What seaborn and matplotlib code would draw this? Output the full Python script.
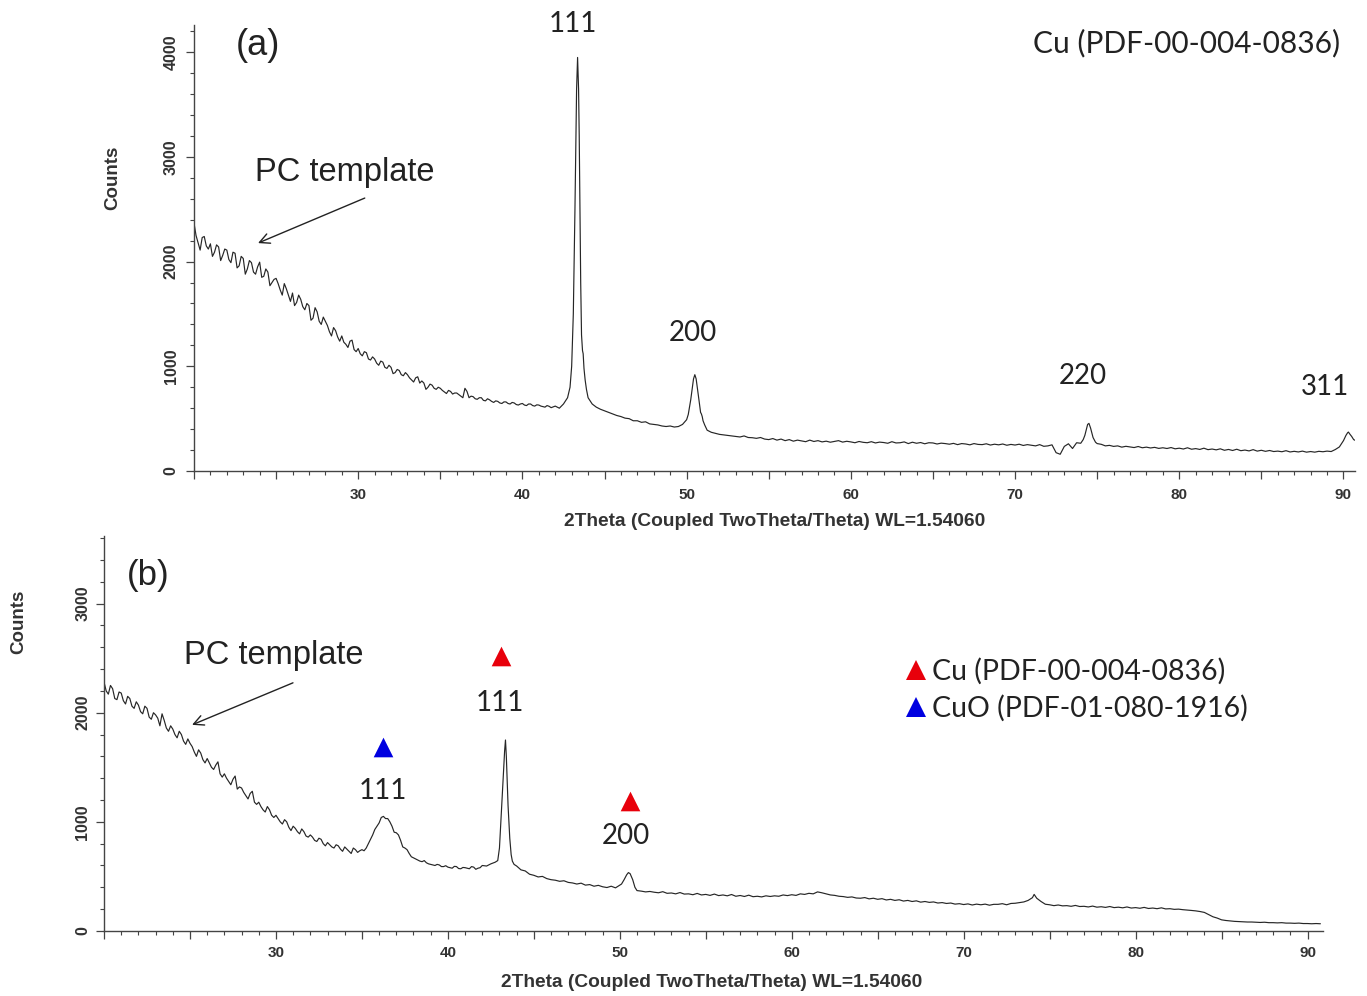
import numpy as np
import pandas as pd
import matplotlib
matplotlib.use("Agg")
import matplotlib.pyplot as plt
from matplotlib.ticker import MultipleLocator, FuncFormatter
from matplotlib.lines import Line2D
import seaborn as sns

# scan grid: 2theta from 20 deg in 0.25 deg steps, one row per degree
SCAN_START = 20.0
SCAN_STEP = 0.25

# (a) Cu on PC template
a_scan_counts = [
    2370, 2180, 2230, 2150,   # 20
    2170, 2090, 2140, 2060,   # 21
    2110, 1990, 2080, 1960,   # 22
    2030, 1930, 1990, 1880,   # 23
    1995, 1860, 1900, 1800,   # 24
    1840, 1730, 1790, 1680,   # 25
    1700, 1610, 1640, 1540,   # 26
    1580, 1460, 1520, 1400,   # 27
    1430, 1330, 1370, 1280,   # 28
    1290, 1210, 1240, 1160,   # 29
    1170, 1100, 1130, 1060,   # 30
    1070, 1010, 1040, 980,    # 31
    990, 940, 960, 910,       # 32
    920, 870, 890, 840,       # 33
    840, 800, 820, 780,       # 34
    790, 755, 770, 735,       # 35
    745, 715, 790, 700,       # 36
    710, 685, 700, 670,       # 37
    680, 655, 665, 645,       # 38
    660, 640, 650, 630,       # 39
    645, 625, 640, 620,       # 40
    630, 615, 625, 605,       # 41
    620, 600, 640, 700,       # 42
    1000, 3100, 2600, 980,    # 43
    700, 640, 610, 590,       # 44
    575, 560, 545, 530,       # 45
    520, 505, 500, 480,       # 46
    480, 465, 470, 450,       # 47
    445, 440, 430, 425,       # 48
    430, 420, 425, 445,       # 49
    490, 680, 920, 680,       # 50
    480, 390, 370, 360,       # 51
    350, 345, 340, 335,       # 52
    330, 325, 335, 320,       # 53
    318, 312, 320, 305,       # 54
    300, 310, 295, 305,       # 55
    290, 300, 285, 295,       # 56
    288, 280, 295, 282,       # 57
    290, 278, 285, 275,       # 58
    282, 290, 276, 284,       # 59
    278, 270, 282, 274,       # 60
    270, 280, 268, 276,       # 61
    272, 265, 280, 268,       # 62
    270, 278, 262, 275,       # 63
    265, 272, 260, 270,       # 64
    268, 258, 266, 262,       # 65
    256, 264, 252, 262,       # 66
    258, 250, 262, 254,       # 67
    252, 260, 248, 256,       # 68
    250, 258, 246, 254,       # 69
    248, 256, 244, 252,       # 70
    246, 240, 252, 236,       # 71
    240, 250, 175, 160,       # 72
    235, 260, 215, 270,       # 73
    265, 340, 455, 320,       # 74
    262, 255, 240, 245,       # 75
    235, 240, 228, 236,       # 76
    230, 224, 234, 222,       # 77
    228, 220, 226, 216,       # 78
    222, 215, 224, 212,       # 79
    218, 210, 222, 208,       # 80
    214, 206, 218, 204,       # 81
    210, 202, 212, 198,       # 82
    206, 196, 208, 194,       # 83
    200, 192, 204, 190,       # 84
    198, 188, 196, 186,       # 85
    190, 184, 194, 182,       # 86
    188, 182, 190, 180,       # 87
    186, 180, 188, 184,       # 88
    190, 186, 205, 230,       # 89
    290, 365, 330, 290,       # 90
]
# in-between readings (x.125, x.375, ...) over the noisy 20-42 deg stretch
a_fine_counts = [
    2250, 2110, 2240, 2120,   # 20
    2050, 2160, 2010, 2120,   # 21
    2020, 2090, 1940, 2050,   # 22
    1880, 2010, 1900, 1950,   # 23
    1850, 1930, 1770, 1830,   # 24
    1790, 1680, 1740, 1620,   # 25
    1580, 1680, 1570, 1600,   # 26
    1440, 1560, 1430, 1470,   # 27
    1390, 1290, 1340, 1240,   # 28
    1230, 1180, 1250, 1140,   # 29
    1120, 1140, 1070, 1090,   # 30
    1030, 1050, 990, 1010,    # 31
    930, 970, 920, 940,       # 32
    890, 850, 900, 860,       # 33
    780, 830, 790, 800,       # 34
    770, 740, 760, 745,       # 35
    730, 700, 760, 715,       # 36
    690, 700, 675, 690,       # 37
    665, 670, 650, 660,       # 38
    645, 655, 635, 640,       # 39
    630, 640, 625, 632,       # 40
    620, 610, 618, 612,       # 41
]
# finer points on the Cu reflections
a_peak_theta = [42.9, 43.1, 43.2, 43.3, 43.36, 43.42, 43.46, 43.55, 43.6, 43.66, 43.7, 43.82, 43.9,
                50.1, 50.35, 50.42, 50.58, 50.65, 50.85, 50.9, 50.95, 51.1,
                74.15, 74.35, 74.42, 74.6, 74.9,
                90.15, 90.3, 90.4, 90.62]
a_peak_counts = [800, 1500, 2500, 3650, 3950, 3650, 3200, 1800, 1300, 1150, 1120, 870, 780,
                 540, 800, 880, 880, 800, 560, 545, 520, 440,
                 300, 400, 445, 410, 275,
                 340, 372, 350, 300]

# (b) Cu / CuO on PC template
b_scan_counts = [
    2280, 2170, 2220, 2120,   # 20
    2180, 2080, 2130, 2040,   # 21
    2070, 1990, 2040, 1940,   # 22
    1980, 1880, 1930, 1830,   # 23
    1850, 1770, 1800, 1710,   # 24
    1720, 1640, 1660, 1570,   # 25
    1580, 1500, 1520, 1440,   # 26
    1440, 1370, 1390, 1300,   # 27
    1310, 1240, 1260, 1180,   # 28
    1180, 1110, 1140, 1060,   # 29
    1060, 1000, 1020, 950,    # 30
    960, 910, 935, 870,       # 31
    880, 830, 850, 800,       # 32
    810, 770, 790, 750,       # 33
    770, 730, 760, 720,       # 34
    745, 760, 840, 930,       # 35
    990, 1050, 1030, 960,     # 36
    900, 830, 760, 710,       # 37
    670, 650, 635, 625,       # 38
    610, 600, 605, 590,       # 39
    585, 575, 590, 570,       # 40
    580, 570, 585, 575,       # 41
    600, 595, 615, 630,       # 42
    760, 1500, 1150, 640,     # 43
    595, 560, 550, 520,       # 44
    510, 495, 500, 480,       # 45
    470, 465, 455, 460,       # 46
    445, 440, 430, 438,       # 47
    420, 425, 410, 418,       # 48
    405, 398, 410, 395,       # 49
    420, 470, 535, 470,       # 50
    370, 365, 358, 362,       # 51
    355, 350, 360, 345,       # 52
    348, 340, 352, 338,       # 53
    340, 332, 344, 330,       # 54
    335, 326, 338, 324,       # 55
    330, 322, 334, 318,       # 56
    325, 316, 328, 314,       # 57
    318, 312, 322, 316,       # 58
    322, 318, 330, 324,       # 59
    332, 326, 340, 335,       # 60
    345, 340, 358, 350,       # 61
    340, 330, 326, 318,       # 62
    315, 308, 312, 302,       # 63
    300, 306, 294, 300,       # 64
    290, 296, 284, 290,       # 65
    280, 286, 274, 280,       # 66
    270, 276, 264, 270,       # 67
    262, 266, 256, 260,       # 68
    252, 256, 246, 250,       # 69
    242, 248, 238, 246,       # 70
    240, 246, 236, 244,       # 71
    244, 250, 240, 252,       # 72
    254, 260, 266, 280,       # 73
    305, 300, 270, 245,       # 74
    240, 232, 238, 230,       # 75
    232, 226, 234, 224,       # 76
    226, 220, 228, 218,       # 77
    222, 216, 224, 214,       # 78
    218, 212, 220, 210,       # 79
    214, 208, 216, 206,       # 80
    210, 204, 212, 202,       # 81
    204, 198, 200, 195,       # 82
    192, 188, 184, 178,       # 83
    170, 150, 130, 118,       # 84
    102, 96, 92, 88,          # 85
    86, 84, 82, 82,           # 86
    80, 78, 80, 76,           # 87
    76, 74, 76, 72,           # 88
    72, 70, 72, 68,           # 89
    68, 66, 68, 66,           # 90
]
b_fine_counts = [
    2200, 2250, 2130, 2190,   # 20
    2110, 2150, 2060, 2100,   # 21
    2010, 2060, 1960, 2000,   # 22
    1950, 1990, 1860, 1880,   # 23
    1800, 1830, 1740, 1760,   # 24
    1690, 1600, 1630, 1540,   # 25
    1540, 1480, 1550, 1410,   # 26
    1400, 1340, 1420, 1320,   # 27
    1270, 1210, 1280, 1160,   # 28
    1140, 1090, 1110, 1040,   # 29
    1030, 980, 1000, 920,     # 30
    940, 890, 910, 860,       # 31
    860, 820, 840, 780,       # 32
    790, 760, 780, 730,       # 33
    750, 710, 745, 735,       # 34
    735, 800, 880, 960,       # 35
    1040, 1030, 1000, 905,    # 36
    880, 770, 745, 680,       # 37
    660, 640, 645, 615,       # 38
    605, 610, 590, 598,       # 39
    580, 592, 572, 582,       # 40
    575, 590, 565, 580,       # 41
]
b_peak_theta = [42.9, 43.1, 43.18, 43.3, 43.35, 43.4, 43.6, 43.68, 43.85,
                50.1, 50.4, 50.6, 50.88,
                74.1]
b_peak_counts = [645, 1050, 1300, 1650, 1750, 1600, 850, 700, 610,
                 430, 515, 525, 400,
                 335]

# phase markers in panel (b)
cu_marker_theta = [43.08, 50.58]
cu_marker_counts = [2522, 1192]
cuo_marker_theta = [36.22]
cuo_marker_counts = [1687]

CU_RED = "#e8000b"
CUO_BLUE = "#0000e0"
LINE = "#262626"
AXIS = "#444444"
NARROW = ["Liberation Sans Narrow", "Liberation Sans", "DejaVu Sans"]
ARIAL = ["Liberation Sans", "DejaVu Sans"]
CALIBRI = ["Lato", "DejaVu Sans"]


def pattern(scan, fine, extra_theta, extra_counts):
    theta = SCAN_START + SCAN_STEP * np.arange(len(scan))
    theta_fine = SCAN_START + SCAN_STEP / 2 + SCAN_STEP * np.arange(len(fine))
    df = pd.DataFrame({
        "theta": np.concatenate([theta, theta_fine, extra_theta]),
        "counts": np.concatenate([scan, fine, extra_counts]),
    })
    return df.sort_values("theta").reset_index(drop=True)


def style_axes(ax, xmax, ymax, ypad, xpad):
    ax.set_xlim(20, xmax)
    ax.set_ylim(0, ymax)
    sns.despine(ax=ax)
    for side in ("left", "bottom"):
        ax.spines[side].set_color(AXIS)
        ax.spines[side].set_linewidth(1.0)
    ax.xaxis.set_major_locator(MultipleLocator(5))
    ax.xaxis.set_minor_locator(MultipleLocator(1))
    ax.xaxis.set_major_formatter(FuncFormatter(
        lambda v, p: f"{v:.0f}" if (round(v) % 10 == 0 and round(v) > 20) else ""))
    ax.yaxis.set_major_locator(MultipleLocator(1000))
    ax.yaxis.set_minor_locator(MultipleLocator(200))
    ax.tick_params(axis="both", which="major", direction="out", length=6, width=0.9,
                   color=AXIS, labelsize=11, labelcolor="#333333")
    ax.tick_params(axis="y", which="major", labelsize=11.5)
    ax.tick_params(axis="both", which="minor", direction="out", length=3, width=0.8, color=AXIS)
    ax.tick_params(axis="y", which="major", pad=ypad, labelrotation=90)
    ax.tick_params(axis="x", which="major", pad=xpad)
    for lab in ax.get_yticklabels():
        lab.set_va("center")
        lab.set_fontweight("bold")
    for lab in ax.get_xticklabels():
        lab.set_fontweight("bold")


sns.set_style("ticks")
plt.rcParams["font.family"] = NARROW

fig = plt.figure(figsize=(13.67, 9.96), dpi=100)
ax_a = fig.add_axes([0.1419, 0.5271, 0.8493, 0.4478])
ax_b = fig.add_axes([0.0761, 0.0653, 0.8917, 0.3966])

# ---- panel (a)
df_a = pattern(a_scan_counts, a_fine_counts, a_peak_theta, a_peak_counts)
sns.lineplot(data=df_a, x="theta", y="counts", ax=ax_a, color=LINE, linewidth=0.85,
             estimator=None, sort=False)
style_axes(ax_a, 90.7, 4260, ypad=5, xpad=6)
ax_a.set_xlabel("2Theta (Coupled TwoTheta/Theta) WL=1.54060", fontsize=13.8, fontweight="bold",
                color="#333333")
ax_a.set_ylabel("Counts", fontsize=13.5, fontweight="bold", color="#333333")
ax_a.xaxis.set_label_coords(0.5004, -0.094)
ax_a.yaxis.set_label_coords(-0.0629, 0.657)

ax_a.text(23.9, 4068, "(a)", ha="center", va="center", fontsize=26, family=ARIAL, color="#222222")
ax_a.text(89.8, 4087, "Cu (PDF-00-004-0836)", ha="right", va="center", fontsize=21.5,
          family=CALIBRI, color="#222222")
for lbl, tx, ty in [("111", 43.1, 4270), ("200", 50.4, 1318), ("220", 74.15, 907), ("311", 88.9, 802)]:
    ax_a.text(tx, ty, lbl, ha="center", va="center", fontsize=20, family=CALIBRI,
              color="#222222", clip_on=False)
ax_a.text(29.2, 2855, "PC template", ha="center", va="center", fontsize=23.5, family=ARIAL,
          color="#222222")
ax_a.annotate("", xy=(23.9, 2177), xytext=(30.4, 2607),
              arrowprops=dict(arrowstyle="->", color="#222222", lw=1.0, mutation_scale=18,
                              shrinkA=0, shrinkB=0))

# ---- panel (b)
df_b = pattern(b_scan_counts, b_fine_counts, b_peak_theta, b_peak_counts)
sns.lineplot(data=df_b, x="theta", y="counts", ax=ax_b, color=LINE, linewidth=0.85,
             estimator=None, sort=False)
style_axes(ax_b, 90.9, 3620, ypad=4, xpad=5)
ax_b.set_xlabel("2Theta (Coupled TwoTheta/Theta) WL=1.54060", fontsize=13.8, fontweight="bold",
                color="#333333")
ax_b.set_ylabel("Counts", fontsize=13.5, fontweight="bold", color="#333333")
ax_b.xaxis.set_label_coords(0.4988, -0.108)
ax_b.yaxis.set_label_coords(-0.0632, 0.782)

sns.scatterplot(x=cu_marker_theta, y=cu_marker_counts, ax=ax_b, marker="^", s=200,
                color=CU_RED, linewidth=0, legend=False)
sns.scatterplot(x=cuo_marker_theta, y=cuo_marker_counts, ax=ax_b, marker="^", s=200,
                color=CUO_BLUE, linewidth=0, legend=False)

ax_b.text(22.56, 3255, "(b)", ha="center", va="center", fontsize=25, family=ARIAL, color="#222222")
for lbl, tx, ty in [("111", 36.22, 1284), ("111", 43.02, 2091), ("200", 50.35, 871)]:
    ax_b.text(tx, ty, lbl, ha="center", va="center", fontsize=20, family=CALIBRI, color="#222222")
ax_b.text(29.88, 2522, "PC template", ha="center", va="center", fontsize=23.5, family=ARIAL,
          color="#222222")
ax_b.annotate("", xy=(25.12, 1889), xytext=(30.99, 2274),
              arrowprops=dict(arrowstyle="->", color="#222222", lw=1.0, mutation_scale=18,
                              shrinkA=0, shrinkB=0))

handles = [
    Line2D([], [], linestyle="none", marker="^", markersize=14, color=CU_RED, markeredgewidth=0),
    Line2D([], [], linestyle="none", marker="^", markersize=14, color=CUO_BLUE, markeredgewidth=0),
]
leg = ax_b.legend(handles, ["Cu (PDF-00-004-0836)", "CuO (PDF-01-080-1916)"],
                  loc="upper left", bbox_to_anchor=(0.657, 0.691), frameon=False,
                  borderpad=0, borderaxespad=0, handlelength=0.8, handletextpad=0.15,
                  labelspacing=0.35, prop={"family": CALIBRI, "size": 20.5})
for t in leg.get_texts():
    t.set_color("#222222")

fig.savefig("out.png", dpi=100)
